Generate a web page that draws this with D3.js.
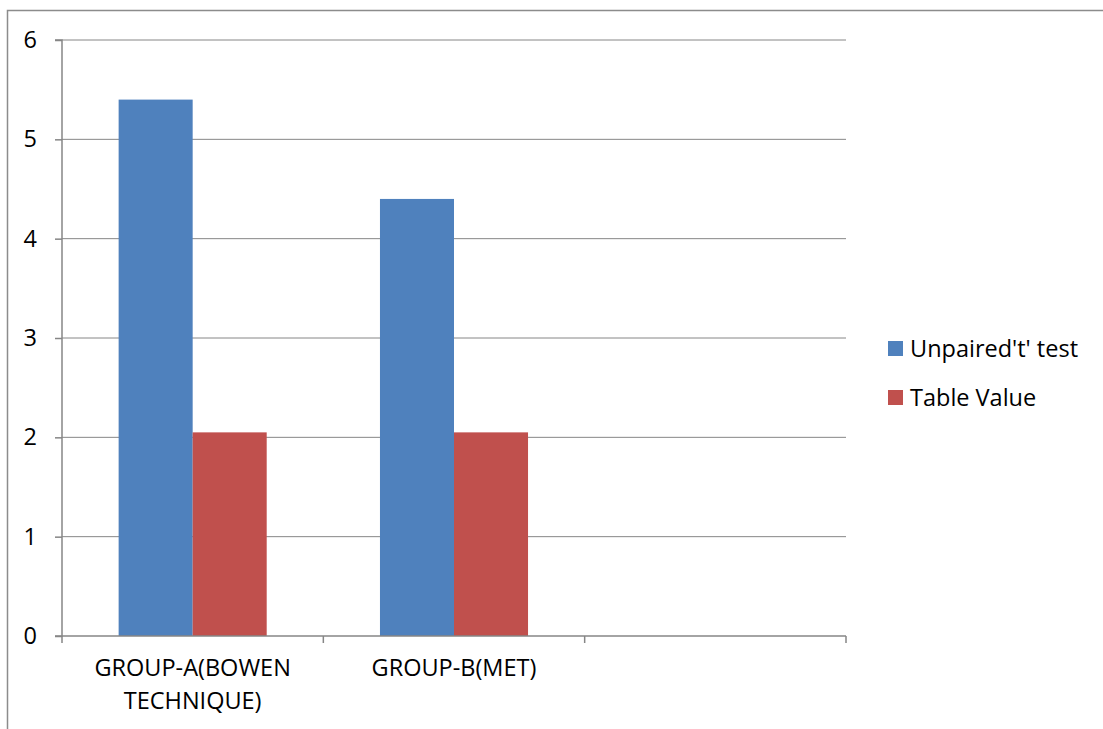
<!DOCTYPE html>
<html>
<head>
<meta charset="utf-8">
<script src="https://cdn.jsdelivr.net/npm/d3@7"></script>
<style>
  body { margin: 0; background: #fff; }
  text { font-family: "Open Sans", "Noto Sans", sans-serif; fill: #000; }
</style>
</head>
<body>
<svg id="chart" width="1103" height="729"></svg>
<script>
// chart data
const categories = ['GROUP-A(BOWEN TECHNIQUE)', 'GROUP-B(MET)', ''];
const categoryLines = [['GROUP-A(BOWEN', 'TECHNIQUE)'], ['GROUP-B(MET)'], []];
const seriesNames = ["Unpaired't' test", 'Table Value'];
const seriesColors = ['#4f81bd', '#c0504d'];
const unpairedT = [5.4, 4.4, null];
const tableValue = [2.05, 2.05, null];
const yTicks = [0, 1, 2, 3, 4, 5, 6];

const svg = d3.select('#chart');
const margin = { left: 62, top: 40, right: 257, bottom: 93 };
const width = 1103 - margin.left - margin.right;
const height = 729 - margin.top - margin.bottom;
const fontSize = '23.5px';

// outer frame
svg.append('rect')
  .attr('x', 7.5).attr('y', 10.5)
  .attr('width', 1110).attr('height', 740)
  .attr('fill', 'none')
  .attr('stroke', '#8c8c8c')
  .attr('stroke-width', 1.5);

const g = svg.append('g').attr('transform', `translate(${margin.left},${margin.top})`);

const x = d3.scaleBand().domain(categories).range([0, width]).paddingInner(0).paddingOuter(0);
const xSub = d3.scaleBand().domain(seriesNames).range([0, x.bandwidth()]).paddingInner(0).paddingOuter(0.765);
const y = d3.scaleLinear().domain([0, 6]).range([height, 0]);

// gridlines
g.selectAll('.grid')
  .data(yTicks.filter(d => d > 0))
  .enter().append('line')
  .attr('class', 'grid')
  .attr('x1', 0).attr('x2', width)
  .attr('y1', d => y(d)).attr('y2', d => y(d))
  .attr('stroke', '#868686')
  .attr('stroke-width', 1);

// bars
const rows = categories.map((c, i) => ({ cat: c, vals: [unpairedT[i], tableValue[i]] }));
const groups = g.selectAll('.grp')
  .data(rows)
  .enter().append('g')
  .attr('class', 'grp')
  .attr('transform', d => `translate(${x(d.cat)},0)`);

groups.selectAll('rect')
  .data(d => d.vals.map((v, i) => ({ name: seriesNames[i], v, color: seriesColors[i] })).filter(d => d.v !== null))
  .enter().append('rect')
  .attr('x', d => xSub(d.name))
  .attr('width', xSub.bandwidth())
  .attr('y', d => y(d.v))
  .attr('height', d => height - y(d.v))
  .attr('fill', d => d.color);

// y axis
const yAxis = g.append('g')
  .call(d3.axisLeft(y).tickValues(yTicks).tickSize(7).tickPadding(18).tickFormat(d3.format('d')));
yAxis.select('.domain').attr('stroke', '#868686').attr('stroke-width', 1.5).attr('d', `M-7,0H0V${height}H-7`);
yAxis.selectAll('.tick line').attr('stroke', '#868686').attr('stroke-width', 1.5);
yAxis.selectAll('.tick text').style('font-size', fontSize).attr('fill', '#000');

// x axis
const xAxis = g.append('g')
  .attr('transform', `translate(0,${height})`);
xAxis.append('line')
  .attr('x1', 0).attr('x2', width).attr('y1', 0).attr('y2', 0)
  .attr('stroke', '#868686').attr('stroke-width', 1.5);
const bounds = categories.map(c => x(c)).concat([width]);
xAxis.selectAll('.xtick')
  .data(bounds)
  .enter().append('line')
  .attr('x1', d => d).attr('x2', d => d)
  .attr('y1', 0).attr('y2', 7)
  .attr('stroke', '#868686').attr('stroke-width', 1.5);

categories.forEach((c, i) => {
  const t = xAxis.append('text')
    .attr('x', x(c) + x.bandwidth() / 2)
    .attr('y', 40)
    .attr('text-anchor', 'middle')
    .style('font-size', fontSize);
  categoryLines[i].forEach((line, j) => {
    t.append('tspan')
      .attr('x', x(c) + x.bandwidth() / 2)
      .attr('dy', j === 0 ? 0 : 33)
      .text(line);
  });
});

// legend
const legend = svg.append('g').attr('transform', 'translate(888,341)');
seriesNames.forEach((name, i) => {
  const row = legend.append('g').attr('transform', `translate(0,${i * 49})`);
  row.append('rect').attr('width', 15).attr('height', 15).attr('fill', seriesColors[i]);
  row.append('text').attr('x', 22).attr('y', 16).style('font-size', fontSize).text(name);
});
</script>
</body>
</html>
